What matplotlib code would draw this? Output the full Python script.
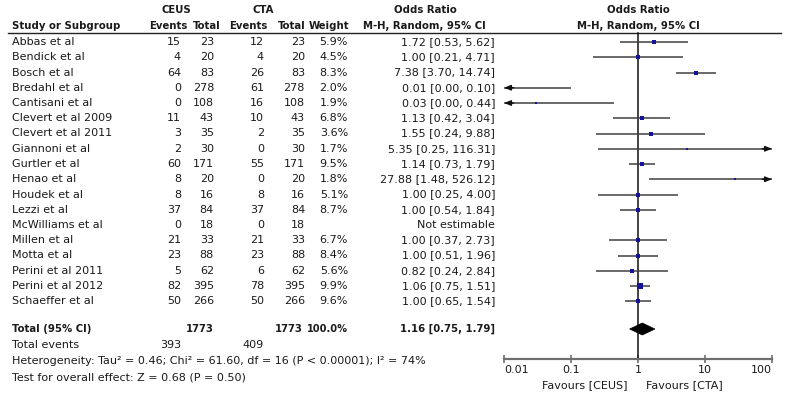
import numpy as np
import matplotlib
matplotlib.use("Agg")
import matplotlib.pyplot as plt
from matplotlib.patches import Polygon
from matplotlib.ticker import FixedLocator, FixedFormatter

# ---------------- data ----------------
studies = ["Abbas et al", "Bendick et al", "Bosch et al", "Bredahl et al", "Cantisani et al",
           "Clevert et al 2009", "Clevert et al 2011", "Giannoni et al", "Gurtler et al",
           "Henao et al", "Houdek et al", "Lezzi et al", "McWilliams et al", "Millen et al",
           "Motta et al", "Perini et al 2011", "Perini et al 2012", "Schaeffer et al"]
ceus_events = [15, 4, 64, 0, 0, 11, 3, 2, 60, 8, 8, 37, 0, 21, 23, 5, 82, 50]
ceus_total = [23, 20, 83, 278, 108, 43, 35, 30, 171, 20, 16, 84, 18, 33, 88, 62, 395, 266]
cta_events = [12, 4, 26, 61, 16, 10, 2, 0, 55, 0, 8, 37, 0, 21, 23, 6, 78, 50]
cta_total = [23, 20, 83, 278, 108, 43, 35, 30, 171, 20, 16, 84, 18, 33, 88, 62, 395, 266]
weights = [5.9, 4.5, 8.3, 2.0, 1.9, 6.8, 3.6, 1.7, 9.5, 1.8, 5.1, 8.7, None, 6.7, 8.4, 5.6, 9.9, 9.6]
odds = [1.72, 1.00, 7.38, 0.01, 0.03, 1.13, 1.55, 5.35, 1.14, 27.88, 1.00, 1.00, None, 1.00, 1.00, 0.82, 1.06, 1.00]
ci_low = [0.53, 0.21, 3.70, 0.00, 0.00, 0.42, 0.24, 0.25, 0.73, 1.48, 0.25, 0.54, None, 0.37, 0.51, 0.24, 0.75, 0.65]
ci_high = [5.62, 4.71, 14.74, 0.10, 0.44, 3.04, 9.88, 116.31, 1.79, 526.12, 4.00, 1.84, None, 2.73, 1.96, 2.84, 1.51, 1.54]

total_ceus_n = 1773
total_cta_n = 1773
total_ceus_events = 393
total_cta_events = 409
total_weight = "100.0%"
total_or, total_lo, total_hi = 1.16, 0.75, 1.79
heterogeneity = "Heterogeneity: Tau² = 0.46; Chi² = 61.60, df = 16 (P < 0.00001); I² = 74%"
overall = "Test for overall effect: Z = 0.68 (P = 0.50)"

tick_values = [0.01, 0.1, 1, 10, 100]
tick_labels = ["0.01", "0.1", "1", "10", "100"]
favours_left = "Favours [CEUS]"
favours_right = "Favours [CTA]"

# ---------------- layout ----------------
W, H = 787, 394
fs = 8
fsb = 7.3
fig = plt.figure(figsize=(W / 100, H / 100), dpi=100)
tax = fig.add_axes([0, 0, 1, 1])
tax.set_xlim(0, W)
tax.set_ylim(H, 0)
tax.axis("off")

x_name = 12
x_ce, x_ct, x_te, x_tt, x_w, x_or = 181, 214, 264, 305, 348, 495
row0, dy = 42, 15.25
ys = row0 + dy * np.arange(len(studies))
y_total = 329
y_events = 345
y_het = 361
y_test = 378
txtc = "#1a1a1a"

def t(x, y, s, ha="left", bold=False, size=None, **kw):
    tax.text(x, y, s, ha=ha, va="center",
             fontsize=size if size else (fsb if bold else fs), color=txtc,
             fontweight="bold" if bold else "normal", **kw)

# headers
t(176, 10, "CEUS", ha="center", bold=True)
t(263, 10, "CTA", ha="center", bold=True)
t(425, 10, "Odds Ratio", ha="center", bold=True)
t(638, 10, "Odds Ratio", ha="center", bold=True)
t(x_name, 26, "Study or Subgroup", bold=True)
t(188, 26, "Events", ha="right", bold=True)
t(221, 26, "Total", ha="right", bold=True)
t(268, 26, "Events", ha="right", bold=True)
t(306, 26, "Total", ha="right", bold=True)
t(349, 26, "Weight", ha="right", bold=True)
t(424, 26, "M-H, Random, 95% CI", ha="center", bold=True)
t(638, 26, "M-H, Random, 95% CI", ha="center", bold=True)
tax.plot([8, 781], [33, 33], color="#222222", lw=1.0)

for i, y in enumerate(ys):
    t(x_name, y, studies[i])
    t(x_ce, y, str(ceus_events[i]), ha="right")
    t(x_ct, y, str(ceus_total[i]), ha="right")
    t(x_te, y, str(cta_events[i]), ha="right")
    t(x_tt, y, str(cta_total[i]), ha="right")
    if weights[i] is not None:
        t(x_w, y, f"{weights[i]:.1f}%", ha="right")
        t(x_or, y, f"{odds[i]:.2f} [{ci_low[i]:.2f}, {ci_high[i]:.2f}]", ha="right")
    else:
        t(x_or, y, "Not estimable", ha="right")

t(x_name, y_total, "Total (95% CI)", bold=True)
t(x_ct, y_total, str(total_ceus_n), ha="right", bold=True)
t(x_tt - 2, y_total, str(total_cta_n), ha="right", bold=True)
t(x_w, y_total, total_weight, ha="right", bold=True, size=7.1)
t(x_or, y_total, f"{total_or:.2f} [{total_lo:.2f}, {total_hi:.2f}]", ha="right", bold=True)
t(x_name, y_events, "Total events")
t(x_ce, y_events, str(total_ceus_events), ha="right")
t(x_te, y_events, str(total_cta_events), ha="right")
t(x_name, y_het, heterogeneity)
t(x_name, y_test, overall)

# ---------------- forest ----------------
x0, x1 = 504, 772
fax = fig.add_axes([x0 / W, 0, (x1 - x0) / W, 1])
fax.patch.set_visible(False)
fax.set_xscale("log")
xmin, xmax = tick_values[0], tick_values[-1]
fax.set_xlim(xmin, xmax)
fax.set_ylim(H, 0)
y_axis = 359
for s in ["left", "right", "top"]:
    fax.spines[s].set_visible(False)
fax.spines["bottom"].set_position(("data", y_axis))
fax.spines["bottom"].set_color("#6e6e6e")
fax.spines["bottom"].set_linewidth(1.6)
fax.yaxis.set_visible(False)
fax.xaxis.set_major_locator(FixedLocator(tick_values))
fax.xaxis.set_major_formatter(FixedFormatter(tick_labels))
fax.xaxis.set_minor_locator(FixedLocator([]))
fax.tick_params(axis="x", direction="inout", length=6, width=1.2, color="#6e6e6e",
                labelsize=fs, labelcolor=txtc, pad=1)
mticks = fax.xaxis.get_major_ticks()
mticks[0].label1.set_horizontalalignment("left")
mticks[-1].label1.set_horizontalalignment("right")

fax.plot([1, 1], [33, y_axis], color="#111111", lw=1.1, zorder=2)

linec = "#404040"
sqc = "#14149a"
arrow_style = "-|>,head_length=0.4,head_width=0.16"
for i, y in enumerate(ys):
    if odds[i] is None:
        continue
    lo = max(ci_low[i], xmin)
    hi = min(ci_high[i], xmax)
    fax.plot([lo, hi], [y, y], color=linec, lw=1.1, zorder=3, solid_capstyle="butt")
    if ci_low[i] < xmin:
        fax.annotate("", xy=(xmin, y), xytext=(xmin * 1.4, y),
                     arrowprops=dict(arrowstyle=arrow_style, color="#111111", lw=1.0,
                                     shrinkA=0, shrinkB=0),
                     annotation_clip=False, zorder=4)
    if ci_high[i] > xmax:
        fax.annotate("", xy=(xmax, y), xytext=(xmax / 1.4, y),
                     arrowprops=dict(arrowstyle=arrow_style, color="#111111", lw=1.0,
                                     shrinkA=0, shrinkB=0),
                     annotation_clip=False, zorder=4)
    if xmin < odds[i] < xmax:
        fax.plot([odds[i]], [y], marker="s", color=sqc, markeredgewidth=0,
                 markersize=1.15 * np.sqrt(weights[i]), zorder=5)

dh = 6
diamond = Polygon([[total_lo, y_total], [total_or, y_total - dh],
                   [total_hi, y_total], [total_or, y_total + dh]],
                  closed=True, facecolor="black", edgecolor="black", lw=0.5, zorder=5)
fax.add_patch(diamond)

fax.text(1, 385, favours_left + "   ", ha="right", va="center", fontsize=fs, color=txtc)
fax.text(1.33, 385, favours_right, ha="left", va="center", fontsize=fs, color=txtc)

fig.savefig("out.png", dpi=100)
